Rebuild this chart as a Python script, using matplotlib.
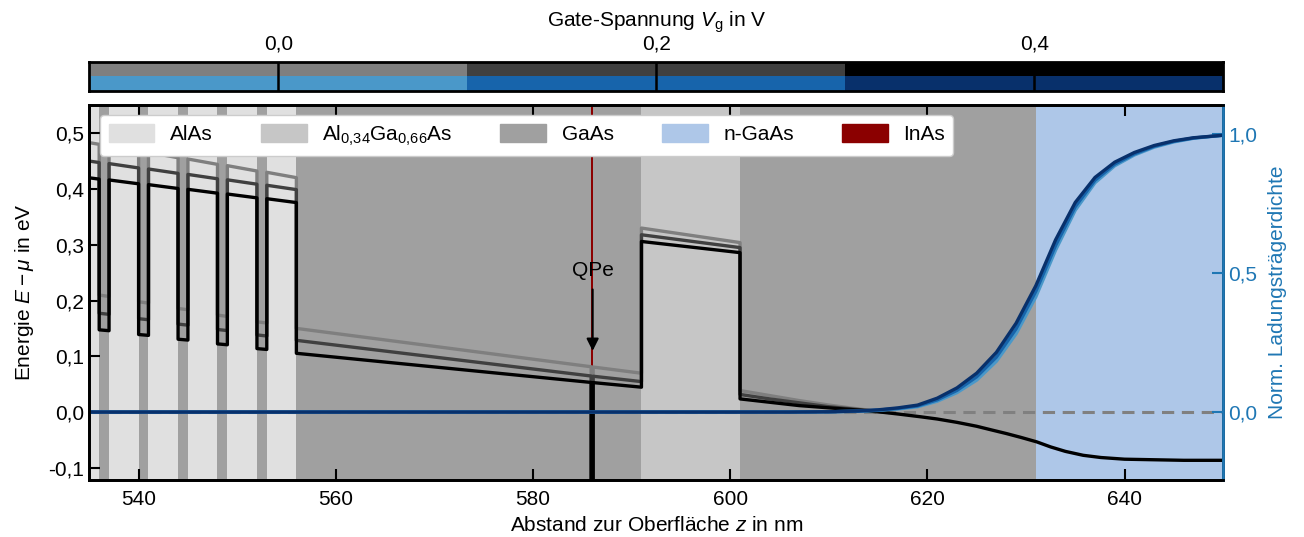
import numpy as np
import matplotlib
matplotlib.use("Agg")
import matplotlib.pyplot as plt
from matplotlib.patches import Patch
from matplotlib.ticker import FuncFormatter

plt.rcParams['font.family'] = ['Liberation Sans', 'DejaVu Sans']
plt.rcParams['font.size'] = 15
plt.rcParams['mathtext.fontset'] = 'custom'
plt.rcParams['mathtext.rm'] = 'Liberation Sans'
plt.rcParams['mathtext.it'] = 'Liberation Sans:italic'
plt.rcParams['axes.unicode_minus'] = False

# Schichtfolge (Start, Ende in nm, Material)
layer_start = [535, 536, 537, 540, 541, 544, 545, 548, 549, 552, 553, 556, 585.9, 586.1, 591, 601, 631]
layer_end = [536, 537, 540, 541, 544, 545, 548, 549, 552, 553, 556, 585.9, 586.1, 591, 601, 631, 650]
layer_mat = ['AlAs', 'GaAs', 'AlAs', 'GaAs', 'AlAs', 'GaAs', 'AlAs', 'GaAs', 'AlAs', 'GaAs',
             'AlAs', 'GaAs', 'InAs', 'GaAs', 'AlGaAs', 'GaAs', 'nGaAs']
mat_colors = {'AlAs': '#e0e0e0', 'AlGaAs': '#c6c6c6', 'GaAs': '#a0a0a0',
              'nGaAs': '#aec7e8', 'InAs': '#8b0000'}
mat_labels = {'AlAs': 'AlAs', 'AlGaAs': r'Al$_{0{,}34}$Ga$_{0{,}66}$As', 'GaAs': 'GaAs',
              'nGaAs': 'n-GaAs', 'InAs': 'InAs'}

# Gate-Spannungen
vg = [0.0, 0.2, 0.4]
band_colors = ['#7f7f7f', '#404040', '#000000']
dens_colors = ['#4a98c9', '#1764ab', '#08306b']

# Leitungsbandkante
z_band = [535, 536, 536, 537, 537, 540, 540, 541, 541, 544, 544, 545, 545, 548, 548, 549,
          549, 552, 552, 553, 553, 556, 556, 585.9, 585.9, 586.1, 586.1, 591, 591, 601, 601]
E_v00 = [0.483, 0.480, 0.210, 0.2075, 0.4775, 0.468, 0.198, 0.1956, 0.4656, 0.456, 0.186,
         0.1837, 0.4537, 0.4441, 0.1741, 0.1718, 0.4418, 0.4322, 0.1622, 0.1599, 0.4299,
         0.4203, 0.1503, 0.0816, -0.6, -0.6, 0.0811, 0.070, 0.330, 0.304, 0.039]
E_v02 = [0.450, 0.4474, 0.1774, 0.1755, 0.4455, 0.4377, 0.1677, 0.1658, 0.4358, 0.428, 0.158,
         0.1561, 0.4261, 0.4183, 0.1483, 0.1464, 0.4164, 0.4086, 0.1386, 0.1367, 0.4067,
         0.3989, 0.1289, 0.065, -0.6, -0.6, 0.0646, 0.055, 0.318, 0.295, 0.032]
E_v04 = [0.420, 0.4177, 0.1477, 0.1462, 0.4162, 0.4093, 0.1393, 0.1378, 0.4078, 0.4009, 0.1309,
         0.1294, 0.3994, 0.3925, 0.1225, 0.121, 0.391, 0.3841, 0.1141, 0.1126, 0.3826,
         0.3757, 0.1057, 0.0535, -0.6, -0.6, 0.0532, 0.045, 0.306, 0.286, 0.024]

# Verlauf hinter der Barriere
z_tail_v00 = [604, 607, 610, 613, 616]
E_tail_v00 = [0.030, 0.021, 0.013, 0.006, 0.0]
z_tail_v02 = [604, 607, 610, 613, 616]
E_tail_v02 = [0.024, 0.017, 0.010, 0.005, 0.0]
z_tail_v04 = [604, 607, 610, 613, 615.5, 617, 619.3, 621, 623, 625, 626.6, 628, 629.5, 631.1,
              632.5, 634, 635.8, 637.6, 640, 643, 646, 650]
E_tail_v04 = [0.018, 0.012, 0.008, 0.004, 0.0, -0.003, -0.008, -0.012, -0.018, -0.025, -0.032,
              -0.038, -0.045, -0.053, -0.062, -0.070, -0.077, -0.081, -0.084, -0.085, -0.086, -0.086]

# normierte Ladungsträgerdichte
z_n = [535, 606, 610, 613, 615, 617, 619, 621, 623, 625, 627, 629, 631, 633, 635,
       637, 639, 641, 643, 645, 647, 650]
n_v00 = [0, 0, 0.001, 0.003, 0.006, 0.011, 0.019, 0.039, 0.070, 0.115, 0.183, 0.282, 0.415,
         0.583, 0.727, 0.826, 0.887, 0.926, 0.954, 0.973, 0.986, 0.997]
n_v02 = [0, 0, 0.001, 0.003, 0.007, 0.013, 0.022, 0.044, 0.078, 0.127, 0.198, 0.300, 0.435,
         0.600, 0.740, 0.835, 0.893, 0.930, 0.957, 0.975, 0.987, 0.997]
n_v04 = [0, 0, 0.001, 0.004, 0.008, 0.015, 0.025, 0.050, 0.087, 0.140, 0.215, 0.320, 0.455,
         0.620, 0.755, 0.845, 0.900, 0.935, 0.960, 0.977, 0.988, 0.997]

E_curves = [(E_v00, z_tail_v00, E_tail_v00), (E_v02, z_tail_v02, E_tail_v02),
            (E_v04, z_tail_v04, E_tail_v04)]
n_curves = [n_v00, n_v02, n_v04]

comma = FuncFormatter(lambda v, p: f'{v:.1f}'.replace('.', ','))
dens_axis_color = '#1f77b4'

fig = plt.figure(figsize=(13.04, 5.37), dpi=100)
ax = fig.add_axes([0.0685, 0.106, 0.8695, 0.698])
cax = fig.add_axes([0.0685, 0.8305, 0.8695, 0.054])

for s, e, m in zip(layer_start, layer_end, layer_mat):
    ax.axvspan(s, e, color=mat_colors[m], lw=0, zorder=0)

ax.axhline(0, color='#808080', ls=(0, (4, 2.5)), lw=2.2, zorder=1)

for (E, zt, Et), c in zip(E_curves, band_colors):
    ax.plot(z_band + zt, E + Et, color=c, lw=2.4, zorder=2)

ax.annotate('', xy=(586.05, 0.105), xytext=(586.05, 0.225),
            arrowprops=dict(arrowstyle='-|>', color='black', lw=1.5, mutation_scale=18),
            zorder=4)
ax.text(586.05, 0.254, 'QPe', ha='center', va='center', zorder=4)

ax.set_xlim(535, 650)
ax.set_ylim(-0.1214, 0.55)
ax.set_yticks([-0.1, 0.0, 0.1, 0.2, 0.3, 0.4, 0.5])
ax.yaxis.set_major_formatter(comma)
ax.set_xlabel('Abstand zur Oberfläche $z$ in nm', labelpad=5)
ax.set_ylabel(r'Energie $E-\mu$ in eV', labelpad=9)
ax.tick_params(direction='in', length=8, width=1.5, top=True, right=False)
ax.tick_params(axis='x', pad=7)
for sp in ax.spines.values():
    sp.set_linewidth(2)

handles = [Patch(color=mat_colors[k], label=mat_labels[k])
           for k in ['AlAs', 'AlGaAs', 'GaAs', 'nGaAs', 'InAs']]
leg = ax.legend(handles=handles, ncol=5, loc='upper left', bbox_to_anchor=(0.006, 0.985),
                framealpha=1, handlelength=2.2, handleheight=0.9, handletextpad=0.75,
                columnspacing=2.3, borderaxespad=0.2)
leg.set_zorder(5)

ax2 = ax.twinx()
for n, c in zip(n_curves, dens_colors):
    ax2.plot(z_n, n, color=c, lw=2.4)
ax2.set_ylim(-0.245, 1.105)
ax2.set_yticks([0.0, 0.5, 1.0])
ax2.yaxis.set_major_formatter(comma)
ax2.set_ylabel('Norm. Ladungsträgerdichte', color=dens_axis_color, labelpad=8)
ax2.tick_params(axis='y', direction='in', length=8, width=1.5,
                colors=dens_axis_color, labelcolor=dens_axis_color)
for sp in ax2.spines.values():
    sp.set_linewidth(2)
ax2.spines['right'].set_color(dens_axis_color)

# Farbleiste der Gate-Spannungen
rgb = np.array([[matplotlib.colors.to_rgb(c) for c in band_colors],
                [matplotlib.colors.to_rgb(c) for c in dens_colors]])
cax.imshow(rgb, aspect='auto', extent=(vg[0] - 0.1, vg[-1] + 0.1, 0, 2),
           interpolation='nearest')
cax.set_xlim(vg[0] - 0.1, vg[-1] + 0.1)
cax.set_ylim(0, 2)
cax.set_yticks([])
cax.set_xticks(vg)
cax.xaxis.set_major_formatter(comma)
cax.xaxis.set_label_position('top')
cax.xaxis.tick_top()
cax.tick_params(axis='x', direction='in', length=21, width=1.8, pad=6)
cax.set_xlabel(r'Gate-Spannung $V_\mathrm{g}$ in V', labelpad=6)
for sp in cax.spines.values():
    sp.set_linewidth(2)

fig.savefig('out.png', dpi=100)
